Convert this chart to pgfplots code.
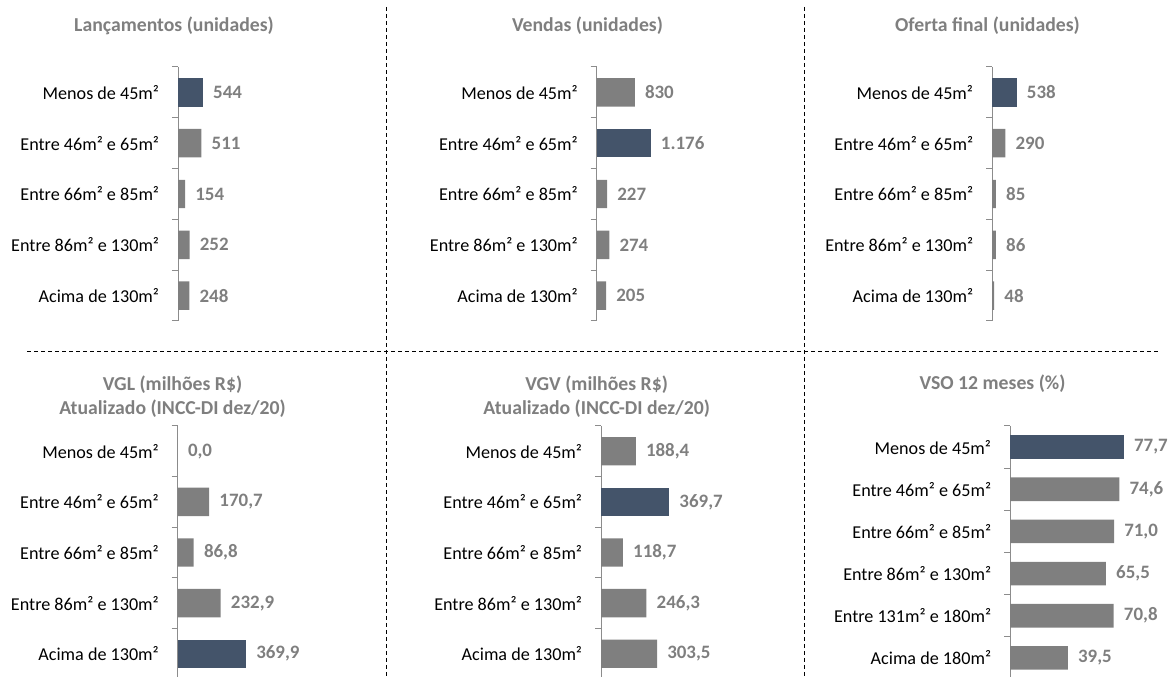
\documentclass[border=0pt]{standalone}
\usepackage{fontspec}
\setmainfont{Carlito}
\usepackage{pgfplots}
\pgfplotsset{compat=1.18}
\definecolor{dark}{HTML}{44546A}
\definecolor{bgray}{HTML}{7F7F7F}
\definecolor{agray}{HTML}{8C8C8C}
\newcommand\lbl{\fontsize{13.6}{16}\selectfont}
\newcommand\val{\fontsize{14.2}{17}\selectfont}
\newcommand\ttl{\fontsize{14.8}{18}\selectfont}
\pgfplotsset{
 panel/.style={xbar, scale only axis, width=112.5pt, xmin=0, clip=false,
  axis x line=none, axis y line*=left, y dir=reverse, ymin=0.5,
  bar width=0.56, bar shift=0pt, point meta=x,
  major tick length=0pt, minor tick length=4.5pt, tick align=outside,
  y axis line style={draw=agray, line width=0.75pt},
  minor tick style={draw=agray, line width=0.75pt},
  yticklabel style={font=\lbl, text=black, anchor=east, inner sep=0pt, xshift=-14pt},
  /pgf/number format/assume math mode=true,
  nodes near coords,
  every node near coord/.append style={font=\val\bfseries, text=bgray, anchor=west, inner sep=0pt, xshift=7.5pt},
  anchor=north west},
 five/.style={ymax=5.5, ytick={1,2,3,4,5}, minor ytick={0.5,1.5,2.5,3.5,4.5,5.5},
  yticklabels={Menos de 45m², Entre 46m² e 65m², Entre 66m² e 85m², Entre 86m² e 130m², Acima de 130m²}},
 topnum/.style={nodes near coords={\pgfmathprintnumber[fixed,precision=0,1000 sep={.}]{\pgfplotspointmeta}}},
 botnum/.style={nodes near coords={\pgfmathprintnumber[fixed,fixed zerofill,precision=1,use comma,1000 sep={.}]{\pgfplotspointmeta}}},
 gbar/.style={fill=bgray, draw=none},
 dbar/.style={fill=dark, draw=none},
}
\begin{document}
\begin{tikzpicture}
\useasboundingbox (0,0) rectangle (879.75pt,507.75pt);
% separators
\begin{scope}[draw=black, line width=0.75pt, dash pattern=on 3pt off 2.25pt]
\draw (289.5pt,502.5pt) -- (289.5pt,0pt);
\draw (603.4pt,502.5pt) -- (603.4pt,0pt);
\draw (20.25pt,243.75pt) -- (868.5pt,243.75pt);
\end{scope}
% titles
\begin{scope}[every node/.style={font=\ttl\bfseries, text=bgray, align=center}]
\node at (130.5pt,488.5pt) {Lançamentos (unidades)};
\node at (440.6pt,488.5pt) {Vendas (unidades)};
\node at (740.6pt,488.5pt) {Oferta final (unidades)};
\node at (129.4pt,210pt) {VGL (milhões R\$)\\Atualizado (INCC-DI dez/20)};
\node at (447.5pt,210pt) {VGV (milhões R\$)\\Atualizado (INCC-DI dez/20)};
\node at (744.4pt,220pt) {VSO 12 meses (\%)};
\end{scope}
% P1
\begin{axis}[panel, five, topnum, at={(133.5pt,457.5pt)}, height=190.5pt, xmax=3268]
\addplot[dbar] coordinates {(544,1)};
\addplot[gbar] coordinates {(511,2) (154,3) (252,4) (248,5)};
\end{axis}
% P2
\begin{axis}[panel, five, topnum, at={(447.5pt,457.5pt)}, height=190.5pt, xmax=3268]
\addplot[gbar] coordinates {(830,1) (227,3) (274,4) (205,5)};
\addplot[dbar] coordinates {(1176,2)};
\end{axis}
% P3
\begin{axis}[panel, five, topnum, at={(744pt,457.5pt)}, height=190.5pt, xmax=3268]
\addplot[dbar] coordinates {(538,1)};
\addplot[gbar] coordinates {(290,2) (85,3) (86,4) (48,5)};
\end{axis}
% P4
\begin{axis}[panel, five, botnum, at={(133.3pt,188.25pt)}, height=189.75pt, xmax=813]
\addplot[gbar] coordinates {(0,1) (170.7,2) (86.8,3) (232.9,4)};
\addplot[dbar] coordinates {(369.9,5)};
\end{axis}
% P5
\begin{axis}[panel, five, botnum, at={(450.75pt,188.25pt)}, height=189.75pt, xmax=813]
\addplot[gbar] coordinates {(188.4,1) (118.7,3) (246.3,4) (303.5,5)};
\addplot[dbar] coordinates {(369.7,2)};
\end{axis}
% P6
\begin{axis}[panel, botnum, at={(757.5pt,188.25pt)}, height=189.75pt, xmax=102.4,
  ymax=6.5, ytick={1,2,3,4,5,6}, minor ytick={0.5,1.5,2.5,3.5,4.5,5.5,6.5},
  yticklabels={Menos de 45m², Entre 46m² e 65m², Entre 66m² e 85m², Entre 86m² e 130m², Entre 131m² e 180m², Acima de 180m²}]
\addplot[dbar] coordinates {(77.7,1)};
\addplot[gbar] coordinates {(74.6,2) (71.0,3) (65.5,4) (70.8,5) (39.5,6)};
\end{axis}
\end{tikzpicture}
\end{document}
